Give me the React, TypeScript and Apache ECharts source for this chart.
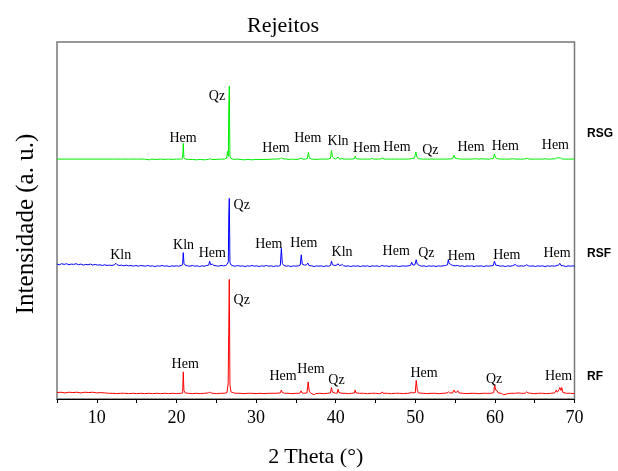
import React, { useEffect, useRef } from "react";
import * as echarts from "echarts";

// 2θ (°) and intensity (a.u., per-trace scale)
const rfPattern: number[][] = [
  [5,1.8],[5.5,1.9],[6,1.7],[6.5,1.9],[7,1.8],[7.5,1.9],[8,1.7],[8.5,1.9],[9,1.8],[9.5,1.9],[10,1.7],[10.5,1.8],[11,1.7],[11.5,1.6],[12,1.6],[12.5,1.5],[13,1.6],[13.5,1.6],[14,1.5],[14.5,1.6],[15,1.5],[15.5,1.6],[16,1.5],[16.5,1.6],[17,1.5],[17.5,1.6],[18,1.5],[18.5,1.6],[19,1.5],[19.5,1.6],[20,1.5],[20.5,1.6],[20.78,1.7],[20.86,7.6],[20.94,2.4],[21.1,1.7],[21.5,1.6],[22,1.5],[22.5,1.6],[23,1.5],[23.5,1.6],[24.05,1.7],[24.18,2.0],[24.3,1.7],[24.6,1.6],[25,1.5],[25.5,1.6],[26,1.6],[26.35,1.8],[26.5,4.4],[26.64,33.5],[26.72,4.0],[26.85,2.0],[27.2,1.7],[27.5,1.6],[28,1.6],[28.5,1.5],[29,1.6],[29.5,1.6],[30,1.5],[30.5,1.6],[31,1.5],[31.5,1.6],[32,1.6],[32.5,1.6],[33.05,1.7],[33.18,2.5],[33.3,1.8],[33.6,1.6],[34,1.6],[34.5,1.5],[35,1.6],[35.5,1.6],[35.65,2.3],[35.78,1.7],[36,1.6],[36.4,1.7],[36.55,4.8],[36.68,2.2],[36.9,1.6],[37.3,1.2],[37.5,1.5],[38,1.6],[38.5,1.5],[39,1.6],[39.35,1.7],[39.47,3.2],[39.6,1.9],[40,1.6],[40.2,1.7],[40.3,2.75],[40.42,1.8],[40.8,1.6],[41.2,1.6],[41.6,1.5],[42,1.6],[42.35,1.7],[42.45,2.5],[42.55,1.7],[43,1.6],[43.5,1.6],[44,1.5],[44.5,1.6],[45,1.6],[45.5,1.5],[45.78,1.7],[45.86,2.0],[45.95,1.6],[46.5,1.6],[47,1.5],[47.5,1.6],[48,1.6],[48.5,1.5],[49,1.6],[49.4,1.7],[49.5,2.0],[49.6,1.7],[50,1.8],[50.12,5.2],[50.25,2.5],[50.4,1.7],[51,1.6],[51.5,1.5],[52,1.6],[52.5,1.6],[53,1.5],[53.5,1.6],[54,1.7],[54.15,2.0],[54.3,1.7],[54.7,1.7],[54.85,2.5],[55,1.9],[55.2,1.9],[55.35,2.3],[55.5,1.7],[56,1.6],[56.5,1.5],[57,1.6],[57.5,1.6],[58,1.5],[58.5,1.6],[59,1.6],[59.5,1.6],[59.85,1.8],[59.97,3.9],[60.1,2.5],[60.25,2.4],[60.4,1.7],[60.8,1.6],[61.1,1.2],[61.3,1.3],[61.6,1.5],[62,1.6],[62.5,1.6],[62.9,1.7],[63.3,1.6],[63.8,1.6],[64.0,2.0],[64.15,1.7],[64.5,1.6],[65,1.5],[65.5,1.6],[66,1.6],[66.5,1.5],[67,1.6],[67.5,1.7],[67.7,2.5],[67.85,1.9],[68.05,2.6],[68.15,3.2],[68.3,2.4],[68.4,3.2],[68.55,1.8],[69,1.6],[69.5,1.6],[70,1.5]
];

const rsfPattern: number[][] = [
  [5,2.8],[5.3,2.6],[5.6,2.9],[5.9,2.7],[6.2,2.9],[6.5,2.6],[6.8,2.8],[7.1,2.7],[7.4,2.9],[7.7,2.6],[8,2.8],[8.3,2.5],[8.6,2.7],[8.9,2.6],[9.2,2.8],[9.5,2.5],[9.8,2.7],[10.1,2.5],[10.4,2.6],[10.7,2.4],[11,2.6],[11.3,2.4],[11.6,2.5],[11.9,2.4],[12.2,2.6],[12.4,3.0],[12.55,2.6],[12.8,2.4],[13.1,2.5],[13.4,2.3],[13.7,2.5],[14,2.3],[14.3,2.4],[14.6,2.2],[14.9,2.4],[15.2,2.2],[15.5,2.4],[15.8,2.3],[16.1,2.2],[16.4,2.4],[16.7,2.2],[17,2.3],[17.3,2.1],[17.6,2.3],[17.9,2.2],[18.2,2.4],[18.5,2.2],[18.8,2.3],[19.1,2.1],[19.4,2.3],[19.7,2.2],[20,2.3],[20.3,2.2],[20.6,2.4],[20.78,2.6],[20.86,6.0],[20.95,3.0],[21.1,2.5],[21.4,2.3],[21.7,2.2],[22,2.4],[22.3,2.2],[22.6,2.3],[22.9,2.1],[23.2,2.3],[23.5,2.2],[23.8,2.4],[24.05,2.5],[24.17,3.6],[24.3,2.6],[24.5,2.8],[24.7,2.4],[25,2.3],[25.3,2.2],[25.6,2.4],[25.9,2.3],[26.2,2.4],[26.4,2.8],[26.52,3.5],[26.58,16.5],[26.64,21.2],[26.72,3.2],[26.85,2.6],[27.1,2.3],[27.4,2.2],[27.7,2.4],[28,2.2],[28.3,2.3],[28.6,2.1],[28.9,2.3],[29.2,2.2],[29.5,2.4],[29.8,2.2],[30.1,2.3],[30.4,2.1],[30.7,2.3],[31,2.2],[31.3,2.4],[31.6,2.2],[31.9,2.3],[32.2,2.1],[32.5,2.3],[32.8,2.2],[33.05,2.4],[33.18,7.2],[33.3,3.0],[33.5,2.4],[33.8,2.2],[34.1,2.3],[34.4,2.1],[34.7,2.3],[35,2.2],[35.3,2.3],[35.55,2.5],[35.68,5.4],[35.8,2.8],[36.1,2.5],[36.35,2.6],[36.5,3.1],[36.65,2.4],[37,2.3],[37.3,2.1],[37.6,2.3],[37.9,2.2],[38.2,2.3],[38.5,2.1],[38.8,2.3],[39.1,2.2],[39.35,2.4],[39.48,3.6],[39.6,2.6],[39.9,2.4],[40.15,2.5],[40.28,2.9],[40.45,2.4],[40.7,2.5],[40.82,2.7],[41,2.3],[41.3,2.2],[41.6,2.3],[41.9,2.1],[42.2,2.3],[42.5,2.2],[42.8,2.3],[43.1,2.1],[43.4,2.3],[43.7,2.2],[44,2.3],[44.3,2.1],[44.6,2.3],[44.9,2.2],[45.2,2.3],[45.5,2.1],[45.8,2.4],[46.1,2.2],[46.4,2.3],[46.7,2.1],[47,2.3],[47.3,2.2],[47.6,2.3],[47.9,2.1],[48.2,2.2],[48.5,2.3],[48.8,2.2],[49.1,2.3],[49.4,2.4],[49.55,3.3],[49.7,2.5],[49.95,2.6],[50.12,4.0],[50.25,2.8],[50.5,2.4],[50.8,2.2],[51.1,2.3],[51.4,2.1],[51.7,2.3],[52,2.2],[52.3,2.3],[52.6,2.1],[52.9,2.3],[53.2,2.2],[53.5,2.3],[53.8,2.4],[54.05,2.6],[54.15,4.0],[54.25,3.0],[54.45,2.7],[54.7,2.4],[55,2.3],[55.3,2.4],[55.6,2.2],[55.9,2.3],[56.2,2.1],[56.5,2.3],[56.8,2.2],[57.1,2.3],[57.4,2.1],[57.7,2.3],[58,2.2],[58.3,2.3],[58.6,2.1],[58.9,2.3],[59.2,2.2],[59.5,2.3],[59.8,2.4],[59.95,3.6],[60.1,2.5],[60.4,2.4],[60.7,2.2],[61,2.3],[61.3,2.1],[61.6,2.3],[61.9,2.2],[62.2,2.3],[62.4,2.5],[62.55,2.7],[62.75,2.3],[63,2.2],[63.3,2.3],[63.6,2.2],[63.85,2.4],[64.0,2.6],[64.2,2.3],[64.5,2.2],[64.8,2.3],[65.1,2.1],[65.4,2.3],[65.7,2.2],[66,2.3],[66.3,2.1],[66.6,2.3],[66.9,2.2],[67.2,2.3],[67.5,2.2],[67.8,2.4],[68.0,2.5],[68.15,3.0],[68.3,2.4],[68.6,2.3],[68.9,2.1],[69.2,2.3],[69.5,2.2],[69.8,2.3],[70,2.2]
];

const rsgPattern: number[][] = [
  [5,2.2],[6,2.2],[7,2.2],[8,2.2],[9,2.2],[10,2.2],[11,2.2],[12,2.2],[13,2.2],[14,2.2],[15,2.2],[16,2.2],[16.6,2.0],[16.8,2.2],[17.5,2.1],[18,2.2],[18.5,2.1],[19,2.2],[19.5,2.1],[20,2.2],[20.5,2.2],[20.78,2.3],[20.86,6.6],[20.94,2.6],[21.1,2.2],[21.5,2.1],[22,2.1],[22.5,2.0],[23,2.1],[23.5,2.0],[24,2.1],[24.2,2.3],[24.4,2.1],[25,2.1],[25.5,2.2],[26,2.2],[26.3,2.4],[26.42,4.4],[26.52,3.0],[26.58,17.1],[26.64,22.7],[26.72,3.0],[26.85,2.4],[27.2,2.1],[27.6,2.2],[28,2.1],[28.5,2.0],[29,2.1],[29.5,2.0],[30,2.1],[30.5,2.1],[31,2.1],[31.5,2.1],[32,2.2],[32.5,2.2],[33.05,2.3],[33.2,2.6],[33.35,2.3],[33.8,2.2],[34.2,2.1],[34.6,2.2],[35,2.1],[35.4,2.2],[35.68,2.5],[35.8,2.2],[36.2,2.2],[36.45,2.4],[36.58,4.1],[36.7,2.5],[37,2.2],[37.5,2.1],[38,2.2],[38.5,2.2],[39,2.2],[39.35,2.4],[39.48,4.6],[39.6,2.8],[39.8,2.4],[40.0,2.2],[40.3,2.8],[40.45,2.2],[40.8,2.3],[41.2,2.2],[41.6,2.2],[42,2.2],[42.35,2.3],[42.46,3.0],[42.6,2.3],[43,2.2],[43.5,2.2],[44,2.2],[44.4,2.2],[44.6,2.4],[44.8,2.2],[45.4,2.2],[45.8,2.3],[45.9,2.6],[46.0,2.2],[46.5,2.2],[47,2.2],[47.5,2.2],[48,2.2],[48.5,2.2],[49,2.2],[49.5,2.3],[49.9,2.5],[50.08,4.2],[50.2,2.8],[50.4,2.3],[51,2.2],[51.5,2.2],[52,2.2],[52.5,2.2],[53,2.2],[53.5,2.2],[54,2.2],[54.7,2.3],[54.85,3.3],[55.0,2.5],[55.3,2.3],[55.8,2.2],[56.3,2.2],[57,2.2],[57.6,2.3],[58,2.2],[58.4,2.3],[58.8,2.2],[59.3,2.2],[59.8,2.4],[59.95,3.6],[60.08,2.6],[60.3,2.3],[60.8,2.2],[61.3,2.2],[61.8,2.2],[62.2,2.3],[62.6,2.2],[63.2,2.2],[63.6,2.2],[64.1,2.4],[64.3,2.2],[65,2.2],[65.5,2.2],[66,2.2],[66.3,2.3],[66.6,2.2],[67,2.2],[67.6,2.3],[67.8,2.6],[68.0,2.5],[68.2,2.6],[68.35,2.3],[68.7,2.2],[69.2,2.2],[70,2.2]
];

// phase annotations: [text, 2θ, height above the trace's own zero]
const rsgPhases: [string, number, number][] = [
  ["Hem", 20.83, 8.3], ["Qz", 25.1, 19.9], ["Hem", 32.5, 5.5], ["Hem", 36.5, 8.2], ["Kln", 40.3, 7.3],
  ["Hem", 43.9, 5.5], ["Hem", 47.7, 5.8], ["Qz", 51.9, 5.0], ["Hem", 57.0, 5.8], ["Hem", 61.3, 6.1], ["Hem", 67.6, 6.2]
];
const rsfPhases: [string, number, number][] = [
  ["Kln", 13.0, 5.5], ["Kln", 20.9, 8.3], ["Hem", 24.5, 6.0], ["Qz", 28.2, 19.4], ["Hem", 31.6, 8.6],
  ["Hem", 36.0, 8.9], ["Kln", 40.8, 6.3], ["Hem", 47.6, 6.5], ["Qz", 51.4, 5.9], ["Hem", 55.8, 5.1],
  ["Hem", 61.5, 5.5], ["Hem", 67.8, 6.0]
];
const rfPhases: [string, number, number][] = [
  ["Hem", 21.1, 9.9], ["Qz", 28.2, 28.0], ["Hem", 33.4, 6.6], ["Hem", 36.9, 8.5], ["Qz", 40.1, 5.5],
  ["Hem", 51.1, 7.5], ["Qz", 59.9, 5.8], ["Hem", 68.0, 6.7]
];

const sampleNames = ["RSG", "RSF", "RF"];
const stackOffsets = [65, 35, 0];
const traceColors = ["#00ee00", "#0000ff", "#ff0000"];

const SERIF = "'Times New Roman', 'Liberation Serif', serif";

export default function App() {
  const ref = useRef<HTMLDivElement>(null);
  useEffect(() => {
    if (!ref.current) return;
    const chart = echarts.init(ref.current, undefined, { renderer: "svg" });
    const patterns = [rsgPattern, rsfPattern, rfPattern];
    const phases = [rsgPhases, rsfPhases, rfPhases];
    const lineSeries = patterns.map((p, i) => ({
      type: "line",
      name: sampleNames[i],
      data: p.map(([x, y]) => [x, y + stackOffsets[i]]),
      showSymbol: false,
      symbol: "none",
      lineStyle: { color: traceColors[i], width: 1 },
      silent: true,
      z: 2,
    }));
    const labelSeries = phases.map((ph, i) => ({
      type: "scatter",
      name: sampleNames[i] + "-phases",
      symbolSize: 0,
      silent: true,
      z: 5,
      data: ph.map(([t, x, y]) => ({ name: t, value: [x, y + stackOffsets[i]] })),
      label: {
        show: true,
        position: "inside",
        formatter: "{b}",
        color: "#000",
        opacity: 1,
        fontFamily: SERIF,
        fontSize: 14,
      },
      itemStyle: { opacity: 1 },
    }));
    const sampleLabelY = [133, 253, 376];
    chart.setOption({
      animation: false,
      title: {
        text: "Rejeitos",
        left: 242,
        top: 8,
        textStyle: { fontFamily: SERIF, fontWeight: "normal", fontSize: 22, color: "#000" },
      },
      grid: {
        left: 57,
        right: 43.5,
        top: 42,
        bottom: 66,
        show: true,
        borderColor: "#777",
        borderWidth: 1.5,
        backgroundColor: "transparent",
      },
      xAxis: {
        type: "value",
        min: 5,
        max: 70,
        interval: 5,
        name: "2 Theta (°)",
        nameLocation: "middle",
        nameGap: 45,
        nameTextStyle: { fontFamily: SERIF, fontSize: 22, color: "#000" },
        axisLine: { lineStyle: { color: "#000", width: 1 } },
        axisTick: { length: 4, lineStyle: { color: "#000" } },
        axisLabel: {
          formatter: (v: number) => (v % 10 === 0 ? String(v) : ""),
          fontFamily: SERIF,
          fontSize: 18,
          color: "#000",
          margin: 9,
        },
        splitLine: { show: false },
      },
      yAxis: { type: "value", min: 0, max: 100, show: false },
      series: [...lineSeries, ...labelSeries],
      graphic: [
        {
          type: "text",
          x: 24,
          y: 224,
          rotation: Math.PI / 2,
          style: {
            text: "Intensidade (a. u.)",
            fontFamily: SERIF,
            fontSize: 25,
            fill: "#000",
            textAlign: "center",
            textVerticalAlign: "middle",
          },
        },
        ...sampleNames.map((s, i) => ({
          type: "text",
          x: 587,
          y: sampleLabelY[i],
          style: {
            text: s,
            fontFamily: "Arial, 'Liberation Sans', sans-serif",
            fontWeight: "bold",
            fontSize: 12,
            fill: "#000",
            textAlign: "left",
            textVerticalAlign: "middle",
          },
        })),
      ],
    });
    return () => chart.dispose();
  }, []);
  return <div ref={ref} style={{ position: "fixed", left: 0, top: 0, width: 618, height: 471 }} />;
}
